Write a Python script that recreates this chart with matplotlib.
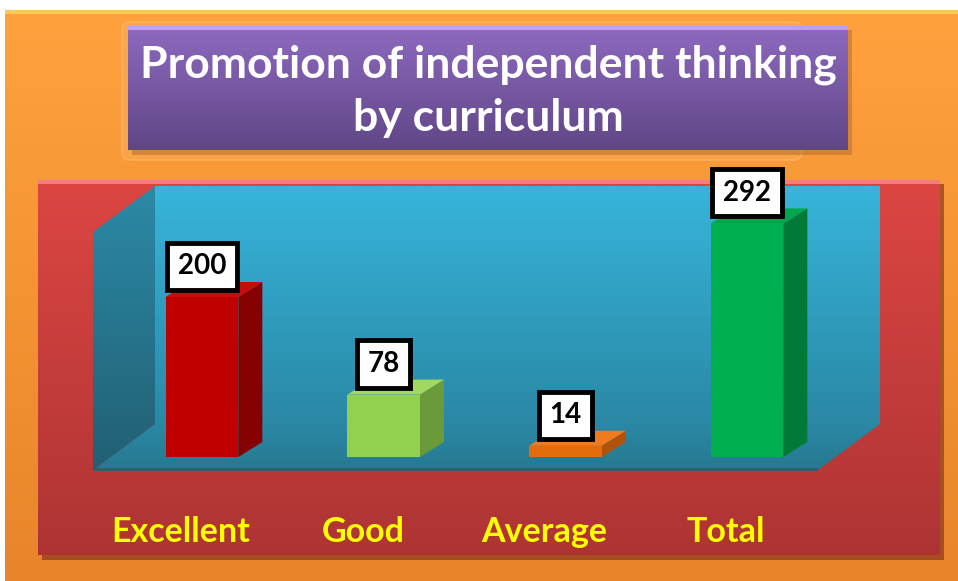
import numpy as np
import matplotlib.pyplot as plt
from matplotlib.patches import Polygon, Rectangle, FancyBboxPatch
from matplotlib.colors import to_rgb

categories = ["Excellent", "Good", "Average", "Total"]
values = [200, 78, 14, 292]
title = "Promotion of independent thinking\nby curriculum"

front_colors = ["#C00000", "#92D050", "#E46C0A", "#00B050"]
side_colors = ["#850000", "#6B9A3A", "#B05208", "#007A36"]
top_colors = ["#CC0A0A", "#A0D860", "#F07A1E", "#00A84C"]

plt.rcParams['font.family'] = ['Lato', 'DejaVu Sans']


def grad_fill(ax, x0, y0, x1, y1, c_top, c_bot, z, clip=None):
    t = np.linspace(0, 1, 200)[:, None, None]
    a = np.array(to_rgb(c_top))[None, None, :]
    b = np.array(to_rgb(c_bot))[None, None, :]
    img = a * (1 - t) + b * t
    im = ax.imshow(img, extent=(x0, x1, y1, y0), aspect='auto',
                   zorder=z, interpolation='bilinear')
    if clip is not None:
        ax.add_patch(clip)
        clip.set_visible(False)
        im.set_clip_path(clip)
    return im


fig = plt.figure(figsize=(9.58, 5.81), dpi=100)
bg = fig.add_axes([0, 0, 1, 1])
bg.set_zorder(0)

# orange background
grad_fill(bg, 5, 10, 958, 581, "#FFA23E", "#E9842A", 1)
bg.add_patch(Rectangle((5, 10), 953, 4, color="#FFC85A", zorder=2, lw=0))

# title box
bg.add_patch(FancyBboxPatch((122, 22), 680, 138, boxstyle="round,pad=0,rounding_size=8",
                            fc="#FFB060", ec="#FFD090", lw=1, alpha=0.4, zorder=2))
bg.add_patch(Rectangle((132, 30), 720, 125, color="#B06A30", alpha=0.5, zorder=2, lw=0))
grad_fill(bg, 128, 25, 848, 150, "#8E6AC0", "#604686", 3)
bg.add_patch(Rectangle((128, 25), 720, 5, color="#C0A0EA", zorder=4, lw=0))
bg.text(488, 91, title, ha='center', va='center', color='white',
        fontsize=32, fontweight='bold', linespacing=1.38, zorder=5)

# red panel
bg.add_patch(Rectangle((42, 184), 902, 376, color="#7A2A1E", alpha=0.6, zorder=2, lw=0))
grad_fill(bg, 38, 180, 940, 555, "#DC4642", "#AE3434", 3)
bg.add_patch(Rectangle((38, 180), 902, 4, color="#F47C7A", zorder=4, lw=0))

# back wall, floor, side wall
grad_fill(bg, 155, 186, 880, 424, "#37B5DB", "#2A88A5", 4)
floor = Polygon([(93, 470), (818, 470), (880, 424), (155, 424)], closed=True)
grad_fill(bg, 93, 424, 880, 470, "#2A88A5", "#26798F", 4, clip=floor)
bg.add_patch(Rectangle((93, 468), 725, 3, color="#2A6272", zorder=5, lw=0))
wall = Polygon([(93, 232), (155, 186), (155, 424), (93, 470)], closed=True)
grad_fill(bg, 93, 186, 155, 470, "#2C8AA6", "#215F74", 5, clip=wall)

bg.set_xlim(0, 958)
bg.set_ylim(581, 0)
bg.axis('off')

# bar axes
ax = fig.add_axes([93 / 958, 111 / 581, 787 / 958, 285 / 581])
ax.set_zorder(1)
ax.patch.set_alpha(0)
x = np.arange(len(categories))
width = 0.4
dx, dy = 0.132, 18.75

ax.bar(x, values, width=width, color=front_colors, zorder=3)
for i, v in enumerate(values):
    l, r = i - width / 2, i + width / 2
    ax.add_patch(Polygon([(r, 0), (r + dx, dy), (r + dx, v + dy), (r, v)],
                         closed=True, color=side_colors[i], zorder=2, lw=0))
    ax.add_patch(Polygon([(l, v), (r, v), (r + dx, v + dy), (l + dx, v + dy)],
                         closed=True, color=top_colors[i], zorder=2, lw=0))
    ax.annotate(str(v), (i, v), xytext=(0, 22), textcoords='offset points',
                ha='center', va='center', fontsize=20, fontweight='bold', zorder=6,
                bbox=dict(boxstyle='square,pad=0.38', fc='white', ec='black', lw=3.5))
    ax.annotate(categories[i], (i, 0), xycoords=('data', 'axes fraction'),
                xytext=(-15, -45), textcoords='offset points', ha='center', va='center',
                color='#FFFF00', fontsize=24.5, fontweight='bold')

ax.set_xlim(-0.6, 3.732)
ax.set_ylim(-16.25, 340)
ax.axis('off')

fig.savefig("out.png", dpi=100)
